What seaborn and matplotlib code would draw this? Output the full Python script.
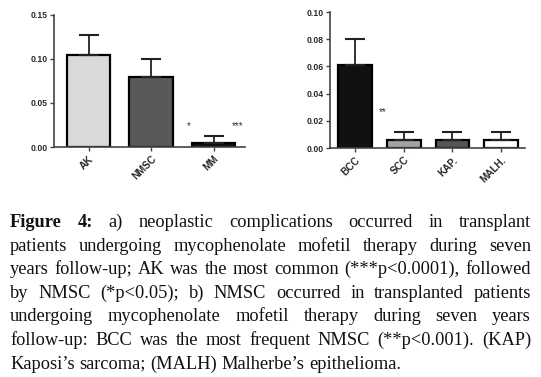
import numpy as np
import seaborn as sns
import matplotlib.pyplot as plt

# panel a
cats_a = ["AK", "NMSC", "MM"]
vals_a = [0.104, 0.079, 0.005]
errs_a = [0.023, 0.021, 0.007]
cols_a = ["#d9d9d9", "#595959", "#111111"]

# panel b
cats_b = ["BCC", "SCC", "KAP.", "MALH."]
vals_b = [0.061, 0.006, 0.006, 0.006]
errs_b = [0.019, 0.006, 0.006, 0.006]
cols_b = ["#111111", "#a3a3a3", "#555555", "#ffffff"]

caption = [
    "Figure 4: a) neoplastic complications occurred in transplant",
    "patients undergoing mycophenolate mofetil therapy during seven",
    "years follow-up; AK was the most common (***p<0.0001), followed",
    "by NMSC (*p<0.05); b) NMSC occurred in transplanted patients",
    "undergoing mycophenolate mofetil therapy during seven years",
    "follow-up: BCC was the most frequent NMSC (**p<0.001). (KAP)",
    "Kaposi\u2019s sarcoma; (MALH) Malherbe\u2019s epithelioma.",
]

sns.set_style("ticks")
plt.rcParams['font.family'] = ['Liberation Sans', 'DejaVu Sans']

W, H = 541, 377
fig = plt.figure(figsize=(W / 100, H / 100), dpi=100)

ax1 = fig.add_axes([54 / W, 1 - 147 / H, 191 / W, 132 / H])
ax2 = fig.add_axes([330 / W, 1 - 148 / H, 195 / W, 136 / H])


def panel(ax, cats, vals, errs, cols, ymax, step, xlim):
    sns.barplot(x=cats, y=vals, hue=cats, palette=cols, legend=False,
                width=0.69, edgecolor="black", linewidth=1.6, ax=ax,
                saturation=1)
    ax.errorbar(range(len(cats)), vals, yerr=[np.zeros(len(errs)), errs],
                fmt="none", ecolor="#222222", elinewidth=1.3, capsize=7,
                capthick=1.5, zorder=1)
    ax.set_ylim(0, ymax)
    ax.set_xlim(*xlim)
    ax.set_yticks(np.arange(0, ymax + step / 2, step))
    ax.yaxis.set_major_formatter(plt.FormatStrFormatter("%.2f"))
    sns.despine(ax=ax)
    for s in ["left", "bottom"]:
        ax.spines[s].set_color("#444444")
        ax.spines[s].set_linewidth(1.2)
    ax.tick_params(axis="both", length=3, width=1, color="#444444",
                   labelcolor="#2a2a2a", pad=1.5)
    ax.tick_params(axis="y", labelsize=6.2)
    ax.tick_params(axis="x", labelsize=7.2, pad=2)
    for lab in ax.get_yticklabels():
        lab.set_weight("bold")
    for lab in ax.get_xticklabels():
        lab.set_rotation(45)
        lab.set_ha("right")
        lab.set_rotation_mode("anchor")
        lab.set_weight("bold")
    ax.set_xlabel("")
    ax.set_ylabel("")


panel(ax1, cats_a, vals_a, errs_a, cols_a, 0.15, 0.05, (-0.552, 2.504))
panel(ax2, cats_b, vals_b, errs_b, cols_b, 0.10, 0.02, (-0.513, 3.49))

ax1.text(1.61, 0.020, "*", fontsize=7, ha="center", color="#333333")
ax1.text(2.38, 0.020, "***", fontsize=7, ha="center", color="#333333")
ax2.text(0.575, 0.024, "**", fontsize=7, ha="center", color="#333333")

# justified caption
fs = 13.2
x0, x1 = 10, 531
base0, dy = 227, 23.6
fig.canvas.draw()
rend = fig.canvas.get_renderer()
for i, line in enumerate(caption):
    words = line.split(" ")
    texts = []
    for j, w in enumerate(words):
        bold = i == 0 and j < 2
        t = fig.text(0, 1 - (base0 + i * dy) / H, w, fontsize=fs,
                     family="Liberation Serif",
                     weight="bold" if bold else "normal",
                     color="#111111",
                     va="baseline", ha="left")
        texts.append(t)
    widths = [t.get_window_extent(rend).width for t in texts]
    if i < len(caption) - 1:
        gap = (x1 - x0 - sum(widths)) / (len(words) - 1)
    else:
        gap = fs * 0.25 * 100 / 72
    x = x0
    for t, w in zip(texts, widths):
        t.set_x(x / W)
        x += w + gap

fig.savefig("out.png", dpi=100)
